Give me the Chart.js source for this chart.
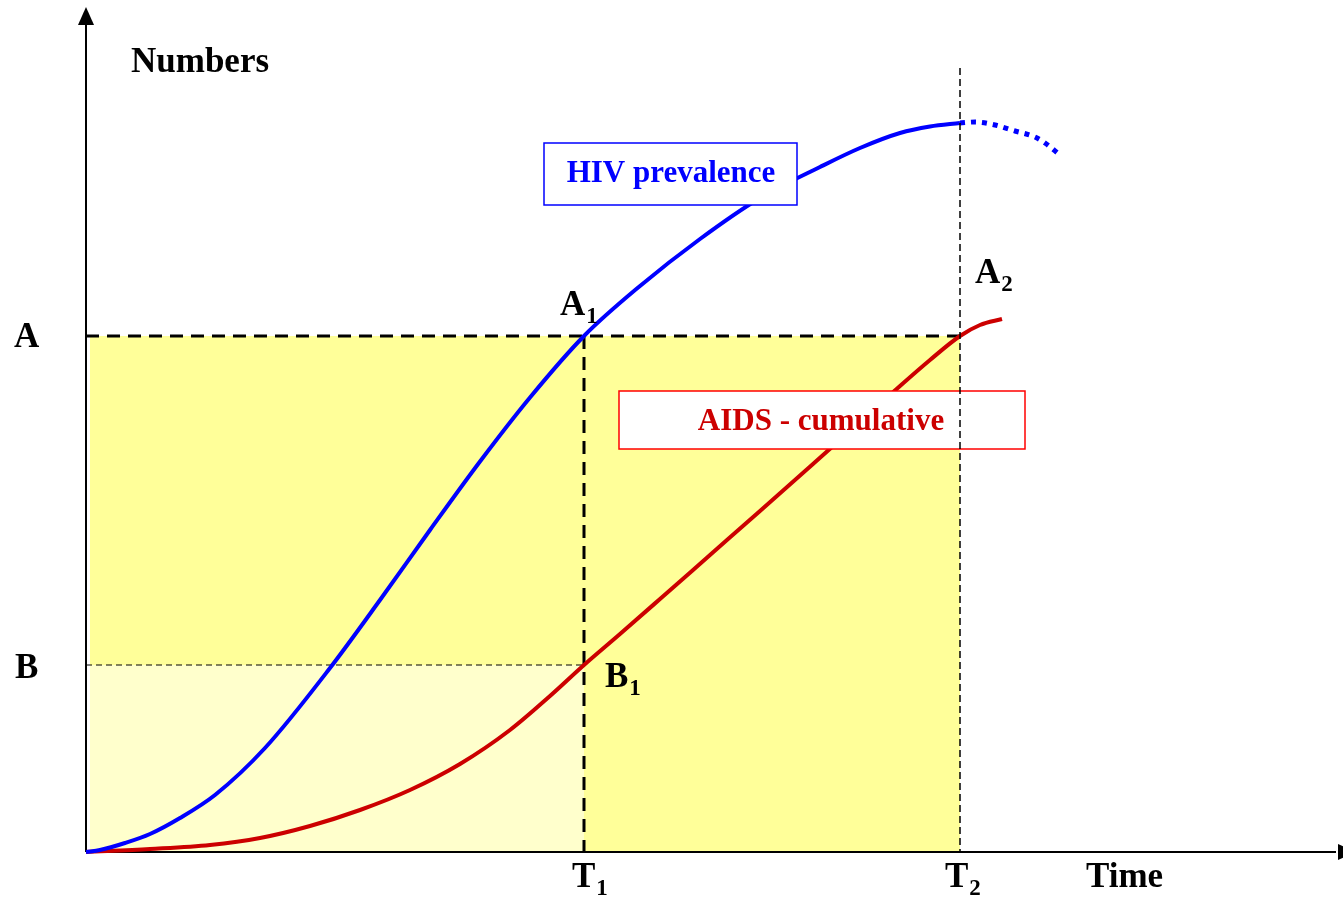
<!DOCTYPE html>
<html>
<head>
<meta charset="utf-8">
<script src="https://cdn.jsdelivr.net/npm/chart.js@4.4.1/dist/chart.umd.min.js"></script>
<style>
  body { margin: 0; background: #fff; }
  #wrap { width: 1343px; height: 897px; position: relative; }
</style>
</head>
<body>
<div id="wrap"><canvas id="hivChart"></canvas></div>
<script>
// curves (time units, numbers units)
const hivX = [0, 1.4, 3.9, 6.4, 9.4, 12.9, 17.9, 24.4, 29.4, 34.4, 39.4, 44.4, 49.8, 55.4, 61.4, 67.4, 73.4, 77.4, 81.4, 84.4, 87.4];
const hivY = [0, 0.2, 0.9, 1.8, 3.4, 5.7, 10.4, 18.4, 25.2, 32.2, 39.05, 45.45, 51.6, 56.6, 61.3, 65.4, 68.5, 70.4, 71.9, 72.55, 72.9];
// projected part after T2 (dotted)
const hivProjX = [87.4, 88.9, 90.9, 92.9, 94.9, 95.9, 97.4];
const hivProjY = [72.9, 73.0, 72.7, 72.1, 71.5, 70.9, 69.7];
const aidsX = [0, 6.4, 12.4, 17.4, 22.4, 27.4, 32.4, 37.4, 42.4, 46.4, 49.8, 53.4, 57.4, 62.4, 67.4, 72.7, 77.4, 81.4, 84.4, 87.4, 89.4, 91.6];
const aidsY = [0, 0.3, 0.7, 1.4, 2.6, 4.2, 6.2, 8.8, 12.2, 15.6, 18.7, 21.8, 25.3, 29.7, 34.1, 38.8, 43.0, 46.6, 49.2, 51.6, 52.7, 53.3];

// reference marks
const T1 = 49.8, T2 = 87.4;
const levelA = 51.6, levelB = 18.7;

const toPts = (xs, ys) => xs.map((x, i) => ({ x: x, y: ys[i] }));

const serif = '"Liberation Serif", "Times New Roman", serif';

function label(ctx, txt, sub, x, y, size) {
  ctx.font = 'bold ' + size + 'px ' + serif;
  ctx.fillText(txt, x, y);
  if (sub) {
    const w = ctx.measureText(txt).width;
    ctx.font = 'bold ' + Math.round(size * 0.66) + 'px ' + serif;
    ctx.fillText(sub, x + w + 1, y + 8);
  }
}

function dashed(ctx, x1, y1, x2, y2, width, dash) {
  ctx.save();
  ctx.strokeStyle = '#000';
  ctx.lineWidth = width;
  ctx.setLineDash(dash);
  ctx.beginPath();
  ctx.moveTo(x1, y1);
  ctx.lineTo(x2, y2);
  ctx.stroke();
  ctx.restore();
}

const backdrop = {
  id: 'backdrop',
  beforeDatasetsDraw(chart) {
    const { ctx, scales: { x, y } } = chart;
    const x0 = x.getPixelForValue(0), y0 = y.getPixelForValue(0);
    const t1 = x.getPixelForValue(T1), t2 = x.getPixelForValue(T2);
    const a = y.getPixelForValue(levelA), b = y.getPixelForValue(levelB);
    ctx.save();
    ctx.fillStyle = '#ffff99';
    ctx.fillRect(x0 + 4, a, t2 - x0 - 4, y0 - a);
    ctx.fillStyle = '#ffffcc';
    ctx.fillRect(x0 + 4, b, t1 - x0 - 4, y0 - b);
    ctx.restore();

    dashed(ctx, x0, a, t2, a, 3, [13, 8]);
    dashed(ctx, t1, a, t1, y0, 3, [13, 8]);
    dashed(ctx, x0, b, t1, b, 1, [6, 4]);

    // axes with arrows
    ctx.save();
    ctx.strokeStyle = '#000';
    ctx.fillStyle = '#000';
    ctx.lineWidth = 2;
    ctx.beginPath();
    ctx.moveTo(x0, y0);
    ctx.lineTo(x0, 20);
    ctx.moveTo(x0, y0);
    ctx.lineTo(1336, y0);
    ctx.stroke();
    ctx.beginPath();
    ctx.moveTo(x0, 7);
    ctx.lineTo(x0 - 8, 25);
    ctx.lineTo(x0 + 8, 25);
    ctx.closePath();
    ctx.fill();
    ctx.beginPath();
    ctx.moveTo(1356, y0);
    ctx.lineTo(1338, y0 - 8);
    ctx.lineTo(1338, y0 + 8);
    ctx.closePath();
    ctx.fill();
    ctx.restore();
  },
  afterDraw(chart) {
    const { ctx, scales: { x, y } } = chart;
    const y0 = y.getPixelForValue(0);
    const t1 = x.getPixelForValue(T1), t2 = x.getPixelForValue(T2);
    const a = y.getPixelForValue(levelA), b = y.getPixelForValue(levelB);

    // series boxes
    ctx.save();
    ctx.fillStyle = '#fff';
    ctx.fillRect(544, 143, 253, 62);
    ctx.strokeStyle = '#0000ff';
    ctx.lineWidth = 1.5;
    ctx.strokeRect(544, 143, 253, 62);
    ctx.fillRect(619, 391, 406, 58);
    ctx.strokeStyle = '#ff0000';
    ctx.strokeRect(619, 391, 406, 58);

    ctx.font = 'bold 31px ' + serif;
    ctx.textAlign = 'center';
    ctx.fillStyle = '#0000ff';
    ctx.fillText('HIV prevalence', 671, 182);
    ctx.fillStyle = '#cc0000';
    ctx.fillText('AIDS - cumulative', 821, 430);
    ctx.restore();

    dashed(ctx, t2, 68, t2, y0, 1.5, [7, 4]);

    ctx.save();
    ctx.fillStyle = '#000';
    ctx.textAlign = 'left';
    label(ctx, 'Numbers', null, 131, 72, 35);
    label(ctx, 'A', null, 14, a + 11, 35);
    label(ctx, 'B', null, 15, b + 13, 35);
    label(ctx, 'A', '1', 560, a - 21, 35);
    label(ctx, 'A', '2', 975, 283, 35);
    label(ctx, 'B', '1', 605, b + 22, 35);
    label(ctx, 'T', '1', t1 - 12, 887, 35);
    label(ctx, 'T', '2', t2 - 15, 887, 35);
    label(ctx, 'Time', null, 1086, 887, 35);
    ctx.restore();
  }
};

new Chart(document.getElementById('hivChart'), {
  type: 'line',
  data: {
    datasets: [
      { label: 'HIV prevalence', data: toPts(hivX, hivY), borderColor: '#0000ff', borderWidth: 4 },
      { label: 'HIV projected', data: toPts(hivProjX, hivProjY), borderColor: '#0000ff', borderWidth: 5, borderDash: [5, 6] },
      { label: 'AIDS - cumulative', data: toPts(aidsX, aidsY), borderColor: '#cc0000', borderWidth: 4 }
    ]
  },
  options: {
    responsive: true,
    maintainAspectRatio: false,
    animation: false,
    layout: { padding: { left: 86, right: 0, top: 8, bottom: 45 } },
    elements: { point: { radius: 0 }, line: { cubicInterpolationMode: 'monotone' } },
    datasets: { line: { clip: 8, fill: false } },
    scales: {
      x: { type: 'linear', min: 0, max: 125.7, display: false },
      y: { type: 'linear', min: 0, max: 84.4, display: false }
    },
    plugins: { legend: { display: false }, tooltip: { enabled: false } }
  },
  plugins: [backdrop]
});
</script>
</body>
</html>
